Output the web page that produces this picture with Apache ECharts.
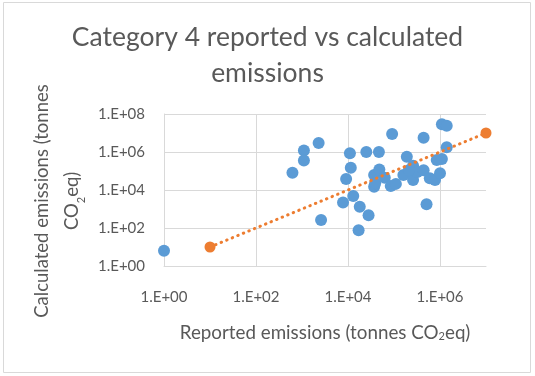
<!DOCTYPE html>
<html>
<head>
<meta charset="utf-8">
<script src="https://cdn.jsdelivr.net/npm/echarts@6/dist/echarts.min.js"></script>
<style>
  body { margin: 0; background: #fff; }
  #chart { width: 535px; height: 376px; }
</style>
</head>
<body>
<div id="chart"></div>
<script>
// reported vs calculated emissions, tonnes CO2eq
var reported = [1, 620, 1100, 1100, 2300, 2600, 7800, 9100, 11000, 11500,
    13000, 17000, 18000, 28000, 25000, 47000, 91000, 37000, 48000, 37000,
    39000, 63000, 85000, 110000, 160000, 190000, 260000, 260000, 320000, 440000,
    440000, 510000, 600000, 780000, 850000, 1100000, 1000000, 1100000, 1400000, 1400000,
    210000];
var calculated = [6.3, 81000, 1200000, 360000, 3000000, 260, 2200, 38000, 850000, 150000,
    4800, 76, 1300, 470, 1000000, 1000000, 8900000, 62000, 120000, 15000,
    23000, 44000, 16000, 21000, 62000, 560000, 190000, 34000, 89000, 5600000,
    110000, 1800, 41000, 34000, 380000, 430000, 76000, 29000000, 24000000, 1800000,
    110000];

// 1:1 reference line end points
var lineX = [10, 10000000];
var lineY = [10, 10000000];

var xTicks = [1, 100, 10000, 1000000];
var yTicks = [1, 100, 10000, 1000000, 100000000];

var grey = '#595959';
var gridGrey = '#d9d9d9';
var font = 'Lato';

function sciLabel(v) {
    var e = Math.round(Math.log10(v));
    if (e % 2 !== 0) return '';
    return '1.E+' + (e < 10 ? '0' + e : e);
}

var pts = reported.map(function (x, i) { return [x, calculated[i]]; });
var linePts = lineX.map(function (x, i) { return [x, lineY[i]]; });

var subStyle = { fontSize: 11, verticalAlign: 'bottom', padding: [8, 0, 0, 0], color: grey, fontFamily: font };

var chart = echarts.init(document.getElementById('chart'));
chart.setOption({
    animation: false,
    title: {
        text: 'Category 4 reported vs calculated\nemissions',
        left: 'center',
        top: 14,
        textStyle: { color: grey, fontFamily: font, fontSize: 26.5, fontWeight: 'normal', lineHeight: 36 }
    },
    grid: { left: 164, right: 49, top: 114, bottom: 110 },
    xAxis: {
        type: 'log',
        logBase: 100,
        min: 1,
        max: 10000000,
        name: 'Reported emissions (tonnes CO{sub|2}eq)',
        nameLocation: 'middle',
        nameGap: 57,
        nameTextStyle: { color: grey, fontFamily: font, fontSize: 18.8, rich: { sub: subStyle } },
        axisLine: { show: true, lineStyle: { color: gridGrey } },
        axisTick: { show: false, customValues: xTicks },
        axisLabel: { customValues: xTicks, formatter: sciLabel, color: grey, fontFamily: font, fontSize: 15, margin: 24 },
        splitLine: { show: true, lineStyle: { color: gridGrey } }
    },
    yAxis: {
        type: 'log',
        logBase: 100,
        min: 1,
        max: 100000000,
        name: 'Calculated emissions (tonnes\nCO{sub|2}eq)',
        nameLocation: 'middle',
        nameGap: 76,
        nameRotate: 90,
        nameTextStyle: {
            color: grey, fontFamily: font, fontSize: 18.5, lineHeight: 30,
            padding: [0, 22, 0, 0],
            rich: { sub: subStyle }
        },
        axisLine: { show: true, lineStyle: { color: gridGrey } },
        axisTick: { show: false, customValues: yTicks },
        axisLabel: { customValues: yTicks, formatter: sciLabel, color: grey, fontFamily: font, fontSize: 15, margin: 19 },
        splitLine: { show: true, lineStyle: { color: gridGrey } }
    },
    graphic: [{
        type: 'rect',
        silent: true,
        shape: { x: 3.5, y: 2.5, width: 527, height: 370 },
        style: { fill: null, stroke: gridGrey, lineWidth: 1 }
    }],
    series: [{
        type: 'scatter',
        data: pts,
        symbolSize: 12,
        itemStyle: { color: '#5B9BD5', opacity: 1 }
    }, {
        type: 'line',
        data: linePts,
        symbol: 'circle',
        symbolSize: 11,
        itemStyle: { color: '#ED7D31' },
        lineStyle: { color: '#ED7D31', width: 3, type: [0.5, 5.5], cap: 'round' }
    }]
});
</script>
</body>
</html>
